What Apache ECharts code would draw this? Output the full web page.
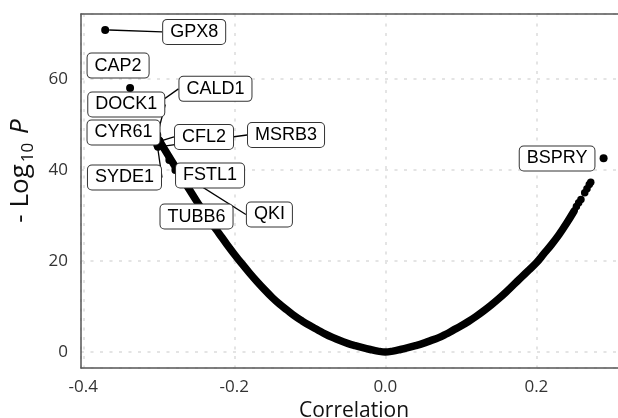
<!DOCTYPE html>
<html>
<head>
<meta charset="utf-8">
<script src="https://cdn.jsdelivr.net/npm/echarts@6/dist/echarts.min.js"></script>
<style>html,body{margin:0;padding:0;background:#fff;overflow:hidden}#c{width:640px;height:418px}</style>
</head>
<body>
<div id="c"></div>
<script>
// Dense correlation curve
const curveX = [-0.300,-0.290,-0.280,-0.270,-0.260,-0.250,-0.240,-0.230,-0.220,-0.210,-0.200,-0.190,-0.180,-0.170,-0.160,-0.150,-0.140,-0.130,-0.120,-0.110,-0.100,-0.090,-0.080,-0.070,-0.060,-0.050,-0.040,-0.030,-0.020,-0.010,0.000,0.010,0.020,0.030,0.040,0.050,0.060,0.070,0.080,0.090,0.100,0.110,0.120,0.130,0.140,0.150,0.160,0.170,0.180,0.190,0.200,0.210,0.220,0.230,0.240,0.250];
const curveY = [46.7,43.9,41.2,38.5,35.8,33.2,30.7,28.3,26.0,23.7,21.5,19.4,17.4,15.5,13.7,12.0,10.5,9.2,7.9,6.8,5.8,4.9,4.0,3.2,2.5,1.9,1.4,0.95,0.55,0.2,0.0,0.2,0.55,0.95,1.4,1.9,2.5,3.1,3.9,4.8,5.7,6.7,7.8,9.0,10.3,11.7,13.2,14.8,16.4,18.0,19.6,21.6,23.6,25.8,28.3,31.0];
// Sparse points at the top of the right branch
const sparseX = [0.253,0.256,0.259,0.264,0.267,0.270,0.272];
const sparseY = [32.0,32.8,33.5,35.0,35.9,36.8,37.3];
// Labelled genes
const geneNames = ['GPX8','CAP2','DOCK1','CALD1','CYR61','CFL2','MSRB3','SYDE1','FSTL1','QKI','TUBB6','BSPRY'];
const geneX = [-0.371,-0.338,-0.302,-0.315,-0.299,-0.301,-0.301,-0.302,-0.286,-0.278,-0.245,0.289];
const geneY = [70.8,58.0,47.7,53.0,46.4,46.2,45.1,45.5,42.2,40.0,31.2,42.6];
// Axis ticks
const xTicks = [-0.4,-0.2,0.0,0.2];
const yTicks = [0,20,40,60];

// label layout (pixel offsets of label centre from point) and guide-line visibility
const labelOffsets = {
  GPX8:[89,2], CAP2:[-12,-22.5], DOCK1:[-31,-30.5], CALD1:[68,-22], CYR61:[-36,-8.4],
  CFL2:[46,-4.8], MSRB3:[128,-11.8], SYDE1:[-32.8,32.5], FSTL1:[40.7,15.5],
  QKI:[94,44.5], TUBB6:[-3.8,6.5], BSPRY:[-46.5,0.3]
};
const withLine = {GPX8:true, DOCK1:true, CALD1:true, CFL2:true, MSRB3:true, SYDE1:true, QKI:true};

const curveData = curveX.map((x,i)=>[x,curveY[i]]);
const sparseData = sparseX.map((x,i)=>[x,sparseY[i]]);
const geneData = geneNames.map((n,i)=>({name:n, value:[geneX[i],geneY[i]], labelLine:{show:!!withLine[n]}}));

const chart = echarts.init(document.getElementById('c'), null, {renderer:'canvas'});
const axisFont = {fontFamily:'Open Sans', fontSize:17, color:'#333'};
const gridLine = {show:true, lineStyle:{color:'#e4e4e4', type:[3,6.5], width:2}};
const xMin = -0.403, xMax = 0.32;
chart.setOption({
  animation:false,
  backgroundColor:'#fff',
  grid:{left:81, width:546, top:14, height:354, outerBoundsMode:'none', containLabel:false, show:false},
  xAxis:[{
    type:'value', min:xMin, max:xMax, splitNumber:4,
    axisLine:{show:true, onZero:false, lineStyle:{color:'#555', width:1.5}},
    axisTick:{show:false},
    axisLabel:Object.assign({margin:11, showMinLabel:false, showMaxLabel:false,
      formatter:v=>{ const t = xTicks.find(k=>Math.abs(k-v)<1e-9); return t===undefined?'':t.toFixed(1); }}, axisFont),
    splitLine:gridLine,
    name:'Correlation', nameLocation:'middle', nameGap:30,
    nameTextStyle:{fontFamily:'Open Sans', fontSize:21, color:'#111'}
  },{
    type:'value', position:'top', min:xMin, max:xMax, splitNumber:4,
    axisLine:{show:true, onZero:false, lineStyle:{color:'#555', width:1.5}},
    axisTick:{show:false}, axisLabel:{show:false}, splitLine:{show:false}
  }],
  yAxis:{
    type:'value', min:-3.52, max:74.29, splitNumber:4,
    axisLine:{show:true, onZero:false, lineStyle:{color:'#555', width:1.5}},
    axisTick:{show:false},
    axisLabel:Object.assign({margin:13, showMinLabel:false, showMaxLabel:false,
      formatter:v=>{ const t = yTicks.find(k=>Math.abs(k-v)<1e-9); return t===undefined?'':String(t); }}, axisFont),
    splitLine:gridLine,
    name:'{a|- Log}{s|10}{a| }{i|P}', nameLocation:'middle', nameGap:44,
    nameTextStyle:{
      padding:[0,0,0,40],
      rich:{
        a:{fontFamily:'Open Sans', fontSize:26, color:'#111', lineHeight:32},
        s:{fontFamily:'Open Sans', fontSize:17, color:'#111', lineHeight:19, verticalAlign:'bottom', padding:[0,2,0,2]},
        i:{fontFamily:'Open Sans', fontSize:26, fontStyle:'italic', color:'#111', lineHeight:32}
      }
    }
  },
  series:[
    {type:'line', data:curveData, showSymbol:false, symbol:'none', z:2, smooth:0.4,
     lineStyle:{color:'#000', width:7.5, cap:'round', join:'round'}},
    {type:'scatter', data:sparseData, symbolSize:7.5, z:3, itemStyle:{color:'#000', opacity:1}},
    {type:'scatter', data:geneData, symbolSize:8, z:4, itemStyle:{color:'#000', opacity:1},
     label:{show:true, position:'inside', formatter:p=>p.name,
       fontFamily:'Liberation Sans', fontSize:18, lineHeight:20, color:'#000',
       backgroundColor:'#fff', borderColor:'#333', borderWidth:1, borderRadius:4, padding:[2,7,2,7]},
     labelLine:{show:true, lineStyle:{color:'#000', width:1.3}},
     labelLayout:function(p){ const o = labelOffsets[geneNames[p.dataIndex]]; return {dx:o[0], dy:o[1]}; }
    }
  ]
});
</script>
</body>
</html>
